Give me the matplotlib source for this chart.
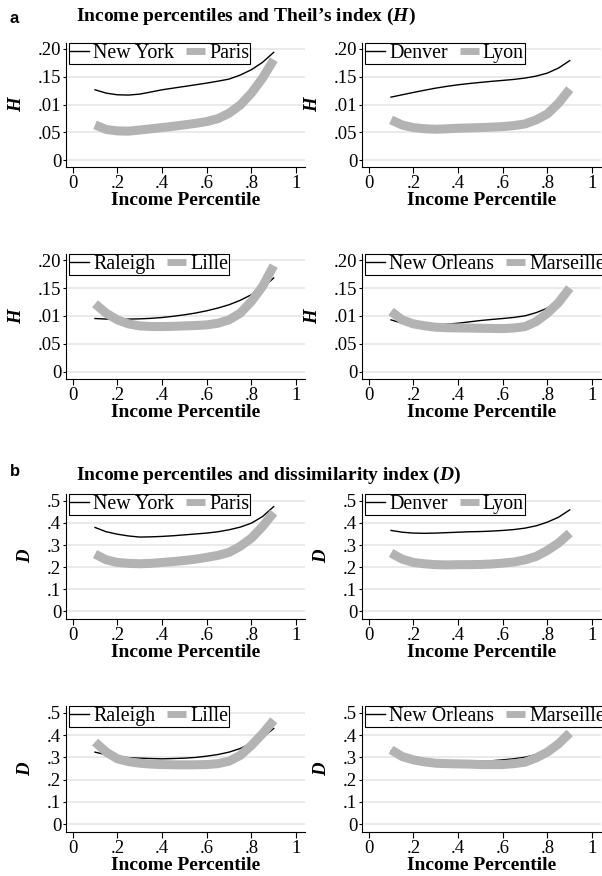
import matplotlib
matplotlib.use('Agg')
import matplotlib.pyplot as plt
from matplotlib.lines import Line2D

plt.rcParams['font.family'] = 'Liberation Serif'
plt.rcParams['mathtext.fontset'] = 'custom'
plt.rcParams['mathtext.rm'] = 'Liberation Serif'
plt.rcParams['mathtext.it'] = 'Liberation Serif:style=italic'
plt.rcParams['mathtext.bf'] = 'Liberation Serif:style=italic:weight=bold'

# income percentile grid
pct = [0.10, 0.15, 0.20, 0.25, 0.30, 0.35, 0.40, 0.45, 0.50,
       0.55, 0.60, 0.65, 0.70, 0.75, 0.80, 0.85, 0.90]

# Theil's index H
ny_H = [.1265, .1205, .1175, .1170, .1187, .1225, .1265, .1295, .1325,
        .1355, .1386, .1420, .1458, .1530, .1627, .1760, .1940]
paris_H = [.0633, .0550, .0524, .0520, .0540, .0562, .0584, .0608, .0633,
           .0660, .0693, .0745, .0843, .0990, .1205, .1476, .1807]
denver_H = [.1133, .1175, .1217, .1257, .1295, .1327, .1355, .1378, .1398,
            .1417, .1434, .1452, .1476, .1512, .1566, .1657, .1790]
lyon_H = [.0723, .0630, .0584, .0563, .0554, .0562, .0572, .0578, .0584,
          .0592, .0602, .0620, .0650, .0723, .0830, .1024, .1277]
raleigh_H = [.0955, .0945, .0943, .0945, .0949, .0958, .0973, .0995, .1021,
             .1053, .1093, .1142, .1201, .1280, .1381, .1500, .1680]
lille_H = [.1219, .1050, .0931, .0859, .0823, .0812, .0811, .0815, .0823,
           .0830, .0841, .0870, .0931, .1050, .1260, .1530, .1900]
neworleans_H = [.0931, .0870, .0841, .0838, .0841, .0855, .0871, .0895, .0919,
                .0938, .0955, .0975, .1003, .1060, .1141, .1260, .1440]
marseille_H = [.1081, .0930, .0859, .0825, .0799, .0790, .0787, .0784, .0781,
               .0778, .0775, .0785, .0811, .0900, .1051, .1240, .1500]

# dissimilarity index D
ny_D = [.3795, .360, .349, .341, .336, .337, .339, .342, .346,
        .350, .354, .360, .369, .381, .399, .429, .474]
paris_D = [.259, .233, .221, .217, .215, .217, .221, .225, .230,
           .236, .244, .253, .2666, .294, .331, .384, .447]
denver_D = [.366, .358, .354, .353, .354, .356, .358, .360, .361,
            .363, .366, .370, .3765, .387, .4036, .426, .459]
lyon_D = [.2636, .236, .221, .215, .211, .210, .211, .211, .212,
          .214, .218, .223, .233, .2485, .2756, .309, .354]
raleigh_D = [.3238, .312, .304, .299, .2967, .295, .2937, .295, .2967,
             .300, .3057, .313, .3238, .340, .3645, .390, .430]
lille_D = [.369, .324, .2937, .281, .274, .270, .268, .267, .2666,
           .267, .268, .272, .283, .309, .354, .4066, .467]
neworleans_D = [.328, .302, .296, .290, .286, .284, .283, .283, .283,
                .285, .289, .294, .301, .313, .331, .355, .390]
marseille_D = [.334, .304, .289, .280, .274, .272, .271, .270, .268,
               .268, .268, .272, .2786, .298, .324, .361, .410]

x_ticks = [0, .2, .4, .6, .8, 1]
x_labels = ['0', '.2', '.4', '.6', '.8', '1']
H_ticks = [0, .05, .10, .15, .20]
H_labels = ['0', '.05', '.01', '.15', '.20']
D_ticks = [0, .1, .2, .3, .4, .5]
D_labels = ['0', '.1', '.2', '.3', '.4', '.5']

W, HP = 602, 876
fig = plt.figure(figsize=(W / 100, HP / 100), dpi=100)

cols = [(66, 305), (362, 601)]
rows = [(43, 167), (254, 379), (494, 619), (706, 832)]

panels = [
    (0, 0, 'New York', ny_H, 'Paris', paris_H, 'H'),
    (0, 1, 'Denver', denver_H, 'Lyon', lyon_H, 'H'),
    (1, 0, 'Raleigh', raleigh_H, 'Lille', lille_H, 'H'),
    (1, 1, 'New Orleans', neworleans_H, 'Marseille', marseille_H, 'H'),
    (2, 0, 'New York', ny_D, 'Paris', paris_D, 'D'),
    (2, 1, 'Denver', denver_D, 'Lyon', lyon_D, 'D'),
    (3, 0, 'Raleigh', raleigh_D, 'Lille', lille_D, 'D'),
    (3, 1, 'New Orleans', neworleans_D, 'Marseille', marseille_D, 'D'),
]

us_col = 'black'
fr_col = '#b3b3b3'
fs = 13.5

for r, c, us_name, us, fr_name, fr, idx in panels:
    l, rr = cols[c]
    t, b = rows[r]
    ax = fig.add_axes([l / W, 1 - b / HP, (rr - l) / W, (b - t) / HP])
    ax.grid(axis='y', color='#e6e6e6', lw=1.2)
    ax.set_axisbelow(True)
    ax.plot(pct, us, color=us_col, lw=1.0)
    ax.plot(pct, fr, color=fr_col, lw=6.5, solid_capstyle='butt')
    for s in ['top', 'right']:
        ax.spines[s].set_visible(False)
    for s in ['left', 'bottom']:
        ax.spines[s].set_linewidth(0.8)
    ax.set_xlim(-0.03, 1.04)
    ax.set_xticks(x_ticks)
    ax.set_xticklabels(x_labels)
    if idx == 'H':
        ax.set_ylim(-0.0126, 0.2108)
        ax.set_yticks(H_ticks)
        ax.set_yticklabels(H_labels)
    else:
        ax.set_ylim(-0.035, 0.531)
        ax.set_yticks(D_ticks)
        ax.set_yticklabels(D_labels)
    ax.tick_params(axis='y', length=2.5, width=0.8, pad=1, labelsize=fs)
    ax.tick_params(axis='x', length=4, width=0.8, pad=2, labelsize=fs)
    ax.set_xlabel('Income Percentile', fontweight='bold', fontsize=14, labelpad=0)
    ax.set_ylabel(idx, fontstyle='italic', fontweight='bold', fontsize=fs, labelpad=9)

    handles = [Line2D([], [], color=us_col, lw=1.0),
               Line2D([], [], color=fr_col, lw=5, solid_capstyle='butt')]
    leg = ax.legend(handles, [us_name, fr_name], loc='upper left',
                    bbox_to_anchor=(3 / (rr - l), 1.0), ncol=2, frameon=True,
                    fancybox=False, edgecolor='black', framealpha=1,
                    borderpad=0.05, handlelength=0.95, handletextpad=0.2,
                    columnspacing=0.6, fontsize=14.4, borderaxespad=0)
    leg.get_frame().set_linewidth(0.8)

fig.text(10 / W, 1 - 23 / HP, 'a', family='Liberation Sans', fontweight='bold',
         fontsize=12, va='baseline')
fig.text(76 / W, 1 - 21 / HP, r"Income percentiles and Theil’s index ($\mathbf{H}$)",
         fontweight='bold', fontsize=14, va='baseline')
fig.text(10 / W, 1 - 476 / HP, 'b', family='Liberation Sans', fontweight='bold',
         fontsize=12, va='baseline')
fig.text(76 / W, 1 - 480 / HP, r"Income percentiles and dissimilarity index ($\mathbf{D}$)",
         fontweight='bold', fontsize=14, va='baseline')

fig.savefig('out.png', dpi=100)
